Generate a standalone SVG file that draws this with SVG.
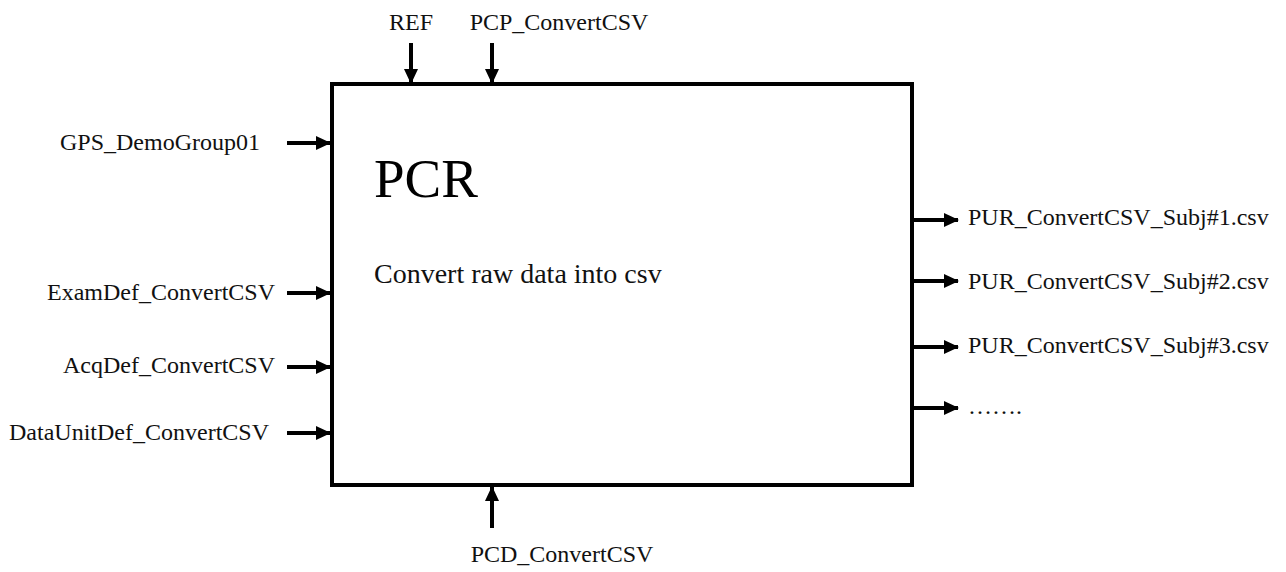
<svg xmlns="http://www.w3.org/2000/svg" width="1286" height="572" viewBox="0 0 1286 572">
<defs>
<marker id="ah" markerUnits="userSpaceOnUse" markerWidth="16" markerHeight="16" viewBox="0 0 16 16" refX="14" refY="8" orient="auto">
<path d="M0,1 L15,8 L0,15 Z" fill="#000"/>
</marker>
<style>
.lbl{font-family:"Liberation Serif","Times New Roman",serif;font-size:24px;fill:#111}
.con{stroke:#000;stroke-width:4;fill:none;marker-end:url(#ah)}
</style>
</defs>
<rect width="1286" height="572" fill="#fff"/>
<g id="node-PCR">
<rect x="332" y="84" width="580" height="401" fill="#fff" stroke="#000" stroke-width="4"/>
<text x="374" y="197" font-family="Liberation Serif, Times New Roman, serif" font-size="55" fill="#000">PCR</text>
<text x="374" y="283" font-family="Liberation Serif, Times New Roman, serif" font-size="28" fill="#111">Convert raw data into csv</text>
</g>
<g id="node-REF"><text class="lbl" x="411" y="30" text-anchor="middle">REF</text></g>
<g id="node-PCP"><text class="lbl" x="559" y="30" text-anchor="middle">PCP_ConvertCSV</text></g>
<g id="node-GPS"><text class="lbl" x="260" y="150" text-anchor="end">GPS_DemoGroup01</text></g>
<g id="node-ExamDef"><text class="lbl" x="275" y="300" text-anchor="end">ExamDef_ConvertCSV</text></g>
<g id="node-AcqDef"><text class="lbl" x="275" y="373" text-anchor="end">AcqDef_ConvertCSV</text></g>
<g id="node-DataUnitDef"><text class="lbl" x="269" y="440" text-anchor="end">DataUnitDef_ConvertCSV</text></g>
<g id="node-PUR1"><text class="lbl" x="968" y="225">PUR_ConvertCSV_Subj#1.csv</text></g>
<g id="node-PUR2"><text class="lbl" x="968" y="289">PUR_ConvertCSV_Subj#2.csv</text></g>
<g id="node-PUR3"><text class="lbl" x="968" y="353">PUR_ConvertCSV_Subj#3.csv</text></g>
<g id="node-more"><text class="lbl" x="968" y="414">…….</text></g>
<g id="node-PCD"><text class="lbl" x="562" y="562" text-anchor="middle">PCD_ConvertCSV</text></g>
<g id="connectors">
<line class="con" x1="411" y1="43" x2="411" y2="83"/>
<line class="con" x1="492" y1="43" x2="492" y2="83"/>
<line class="con" x1="287" y1="143" x2="330" y2="143"/>
<line class="con" x1="287" y1="293" x2="330" y2="293"/>
<line class="con" x1="287" y1="367" x2="330" y2="367"/>
<line class="con" x1="287" y1="433" x2="330" y2="433"/>
<line class="con" x1="914" y1="220" x2="958" y2="220"/>
<line class="con" x1="914" y1="281" x2="958" y2="281"/>
<line class="con" x1="914" y1="347" x2="958" y2="347"/>
<line class="con" x1="914" y1="408" x2="958" y2="408"/>
<line class="con" x1="492" y1="528" x2="492" y2="487"/>
</g>
</svg>
